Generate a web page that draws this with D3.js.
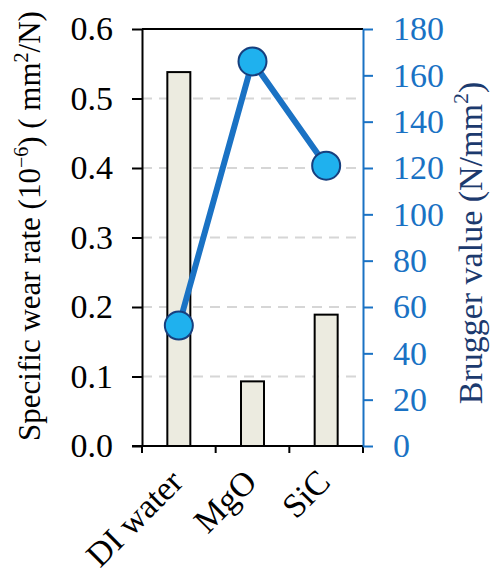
<!DOCTYPE html>
<html>
<head>
<meta charset="utf-8">
<script src="https://cdn.jsdelivr.net/npm/d3@7"></script>
<style>
  html, body { margin: 0; padding: 0; background: #fff; }
  svg { display: block; }
</style>
</head>
<body>
<svg id="chart" width="491" height="575" font-family="Liberation Serif"></svg>
<script>
// Categories and measured series
const categories = ["DI water", "MgO", "SiC"];
const wearRate = [0.538, 0.093, 0.189];      // specific wear rate (10^-6 mm^2/N)
const brugger = [52, 166, 121];              // Brugger value (N/mm^2)
const leftTicks = [0, 0.1, 0.2, 0.3, 0.4, 0.5, 0.6];
const rightTicks = [0, 20, 40, 60, 80, 100, 120, 140, 160, 180];
const gridTicks = [0.1, 0.2, 0.3, 0.4, 0.5];

const FONT = "Liberation Serif";
const svg = d3.select("#chart");
const m = { left: 142, top: 29, right: 128, bottom: 129 };
const W = 491 - m.left - m.right;
const H = 575 - m.top - m.bottom;

const g = svg.append("g").attr("transform", `translate(${m.left},${m.top})`);

const x = d3.scaleBand().domain(categories).range([0, W]).padding(0);
const yL = d3.scaleLinear().domain([0, 0.6]).range([H, 0]);
const yR = d3.scaleLinear().domain([0, 180]).range([H, 0]);

const blue = "#1a72c4";
const fontSize = 34;

// dashed gridlines
g.append("g").selectAll("line").data(gridTicks).join("line")
  .attr("x1", 0).attr("x2", W)
  .attr("y1", d => yL(d)).attr("y2", d => yL(d))
  .attr("stroke", "#d6d6d6").attr("stroke-width", 2)
  .attr("stroke-dasharray", "10,7");

// bars
const barW = 23;
g.append("g").selectAll("rect").data(categories).join("rect")
  .attr("x", d => x(d) + x.bandwidth() / 2 - barW / 2)
  .attr("y", (d, i) => yL(wearRate[i]))
  .attr("width", barW)
  .attr("height", (d, i) => H - yL(wearRate[i]))
  .attr("fill", "#ecebe0")
  .attr("stroke", "#000").attr("stroke-width", 2);

// top spine
g.append("line").attr("x1", 0).attr("x2", W).attr("y1", 0).attr("y2", 0)
  .attr("stroke", "#000").attr("stroke-width", 2);

// left axis
const axL = g.append("g")
  .call(d3.axisLeft(yL).tickValues(leftTicks).tickFormat(d3.format(".1f"))
    .tickSize(10).tickPadding(19).tickSizeOuter(0))
  .attr("font-family", FONT).attr("font-size", fontSize);
axL.select(".domain").attr("stroke", "#000").attr("stroke-width", 2);
axL.selectAll(".tick line").attr("stroke", "#000").attr("stroke-width", 2);
axL.selectAll(".tick text").attr("fill", "#000");

// bottom axis: ticks at band boundaries
g.append("line").attr("x1", -10).attr("x2", W).attr("y1", H).attr("y2", H)
  .attr("stroke", "#000").attr("stroke-width", 2);
const edges = categories.map(c => x(c)).concat([W]);
g.append("g").selectAll("line").data(edges).join("line")
  .attr("x1", d => d).attr("x2", d => d)
  .attr("y1", H).attr("y2", H + 7)
  .attr("stroke", "#000").attr("stroke-width", 2);

// category labels
g.append("g").selectAll("text").data(categories).join("text")
  .attr("transform", d => `translate(${x(d) + x.bandwidth() / 2 + 6},${H + 38}) rotate(-45)`)
  .attr("text-anchor", "end")
  .attr("font-family", FONT)
  .attr("font-size", fontSize)
  .attr("fill", "#000")
  .text(d => d);

// right axis
const axR = g.append("g").attr("transform", `translate(${W},0)`)
  .call(d3.axisRight(yR).tickValues(rightTicks).tickSize(10).tickPadding(20).tickSizeOuter(0))
  .attr("font-family", FONT).attr("font-size", fontSize);
axR.select(".domain").attr("stroke", blue).attr("stroke-width", 2);
axR.selectAll(".tick line").attr("stroke", blue).attr("stroke-width", 2);
axR.selectAll(".tick text").attr("fill", blue);

// Brugger line and markers
const line = d3.line().x((d, i) => x(categories[i]) + x.bandwidth() / 2).y(d => yR(d));
g.append("path").datum(brugger)
  .attr("d", line).attr("fill", "none")
  .attr("stroke", blue).attr("stroke-width", 6);
g.append("g").selectAll("circle").data(brugger).join("circle")
  .attr("cx", (d, i) => x(categories[i]) + x.bandwidth() / 2)
  .attr("cy", d => yR(d))
  .attr("r", 14)
  .attr("fill", "#1fb1ee")
  .attr("stroke", "#173f7e").attr("stroke-width", 2);

// left axis title
const tL = svg.append("text")
  .attr("transform", `translate(40,226) rotate(-90)`)
  .attr("text-anchor", "middle")
  .attr("font-family", FONT)
  .attr("font-size", 31)
  .attr("fill", "#000");
tL.append("tspan").text("Specific wear rate (10");
tL.append("tspan").attr("font-size", 20).attr("dy", -12).text("\u22126");
tL.append("tspan").attr("dy", 12).text(") ( mm");
tL.append("tspan").attr("font-size", 20).attr("dy", -12).text("2");
tL.append("tspan").attr("dy", 12).text("/N)");

// right axis title
const tR = svg.append("text")
  .attr("transform", `translate(482,243) rotate(-90)`)
  .attr("text-anchor", "middle")
  .attr("font-family", FONT)
  .attr("font-size", 34)
  .attr("fill", "#1c3a6e");
tR.append("tspan").text("Brugger value (N/mm");
tR.append("tspan").attr("font-size", 22).attr("dy", -14).text("2");
tR.append("tspan").attr("dy", 14).text(")");
</script>
</body>
</html>
